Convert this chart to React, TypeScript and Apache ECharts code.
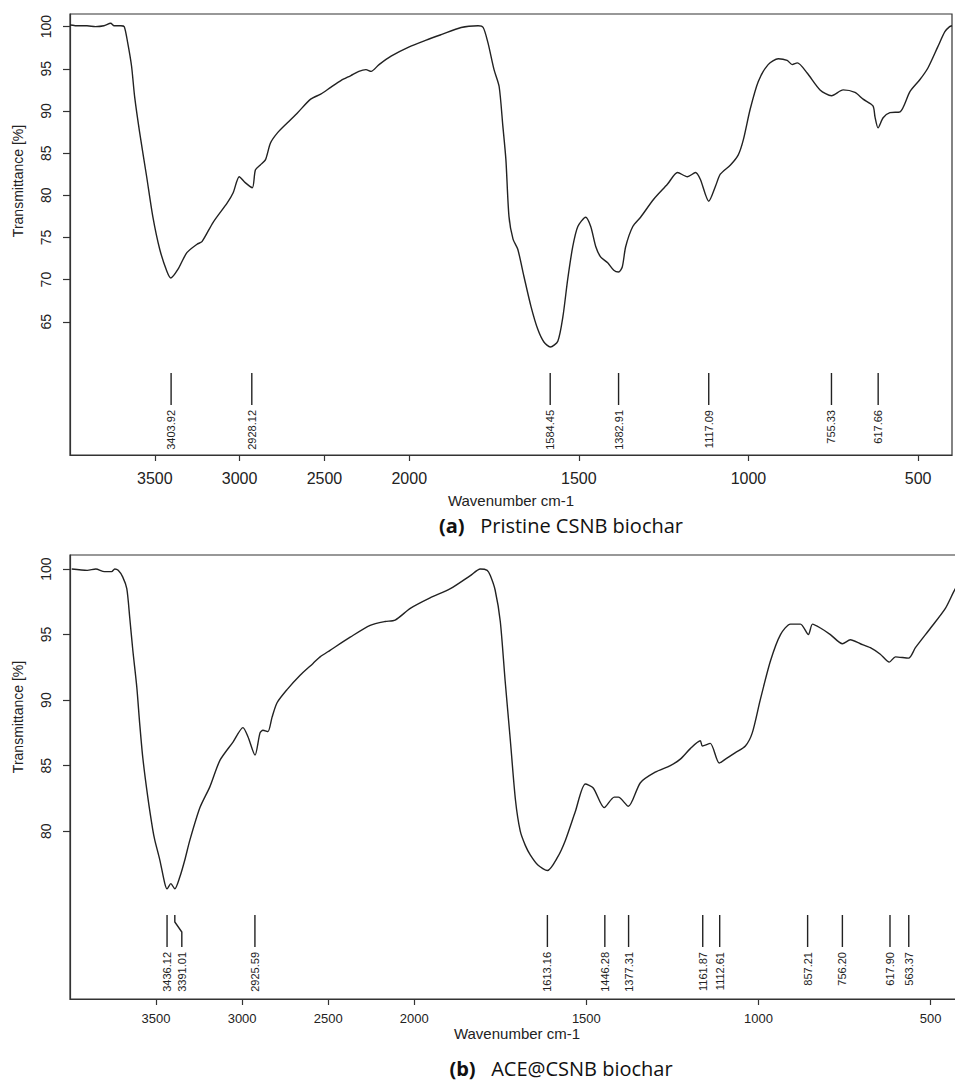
import React, { useEffect, useRef } from "react";
import * as echarts from "echarts";

// ---------- data ----------
const xTickValues = [3500, 3000, 2500, 2000, 1500, 1000, 500];
const yTicksA = [65, 70, 75, 80, 85, 90, 95, 100];
const yTicksB = [80, 85, 90, 95, 100];

// (a) Pristine CSNB biochar: [wavenumber cm-1, transmittance %]
const spectrumA: [number, number][] = [
  [4000, 100.2], [3950, 100.1], [3900, 100.1], [3850, 100.0], [3800, 100.1], [3760, 100.4], [3740, 100.1],
  [3700, 100.1], [3680, 100.0], [3660, 98.1], [3637, 95.3], [3619, 91.7], [3589, 87.4], [3548, 82.2],
  [3512, 77.5], [3471, 73.6], [3429, 71.0], [3405, 70.2], [3364, 71.2], [3311, 73.2], [3251, 74.2],
  [3222, 74.5], [3156, 76.8], [3073, 79.1], [3038, 80.3], [3002, 82.2], [2967, 81.5], [2925, 80.9],
  [2907, 83.0], [2878, 83.6], [2848, 84.2], [2818, 86.2], [2777, 87.4], [2718, 88.6], [2658, 89.8],
  [2581, 91.4], [2522, 92.0], [2463, 92.8], [2403, 93.6], [2344, 94.2], [2297, 94.7], [2255, 94.9],
  [2225, 94.7], [2178, 95.5], [2107, 96.5], [2000, 97.6], [1950, 98.4], [1906, 99.05], [1847, 99.9],
  [1797, 100.1], [1782, 99.9], [1768, 98.1], [1750, 94.9], [1735, 92.9], [1724, 88.2], [1715, 84.2],
  [1706, 77.5], [1694, 74.8], [1680, 73.6], [1662, 70.4], [1641, 66.8], [1621, 64.1], [1603, 62.6],
  [1584, 62.0], [1562, 62.7], [1547, 65.6], [1533, 70.0], [1518, 73.9], [1503, 76.3], [1480, 77.4],
  [1465, 76.3], [1450, 73.9], [1436, 72.7], [1415, 72.0], [1397, 71.1], [1383, 70.9], [1372, 71.5],
  [1362, 73.9], [1341, 76.3], [1318, 77.4], [1280, 79.5], [1239, 81.3], [1209, 82.7], [1180, 82.2],
  [1156, 82.7], [1142, 81.9], [1117, 79.3], [1097, 81.1], [1083, 82.5], [1053, 83.6], [1030, 84.8],
  [1015, 86.6], [995, 90.2], [971, 93.5], [942, 95.5], [912, 96.2], [886, 96.0], [871, 95.5],
  [856, 95.7], [827, 94.5], [789, 92.5], [755, 91.8], [721, 92.5], [686, 92.2], [662, 91.4],
  [633, 90.6], [627, 89.3], [618, 88.0], [603, 89.2], [583, 89.8], [553, 89.9], [524, 92.3],
  [495, 93.7], [471, 95.1], [442, 97.6], [421, 99.4], [407, 100.0], [400, 100.1],
];

// (b) ACE@CSNB biochar
const spectrumB: [number, number][] = [
  [3990, 100.0], [3900, 99.9], [3850, 100.0], [3800, 99.8], [3758, 99.8], [3740, 100.0], [3720, 99.9],
  [3694, 99.4], [3670, 98.5], [3653, 96.3], [3635, 93.8], [3612, 91.0], [3595, 88.2], [3577, 85.6],
  [3548, 82.6], [3519, 80.1], [3507, 79.3], [3478, 77.8], [3449, 76.0], [3436, 75.6], [3414, 76.0],
  [3391, 75.6], [3362, 76.5], [3333, 77.8], [3304, 79.3], [3245, 81.8], [3187, 83.4], [3129, 85.4],
  [3053, 86.8], [2995, 87.9], [2966, 87.2], [2925, 85.8], [2896, 87.5], [2879, 87.7], [2850, 87.6],
  [2826, 88.7], [2797, 89.8], [2739, 90.8], [2663, 91.9], [2588, 92.8], [2547, 93.3], [2489, 93.8],
  [2372, 94.8], [2256, 95.7], [2169, 96.0], [2111, 96.1], [2023, 97.0], [1954, 97.8], [1895, 98.5],
  [1837, 99.5], [1808, 100.0], [1788, 99.9], [1779, 99.5], [1765, 98.4], [1750, 96.0], [1736, 91.5],
  [1721, 87.0], [1706, 82.4], [1692, 80.0], [1677, 78.9], [1663, 78.2], [1640, 77.4], [1613, 77.0],
  [1584, 78.0], [1561, 79.3], [1532, 81.5], [1503, 83.6], [1480, 83.3], [1448, 81.8], [1419, 82.6],
  [1407, 82.6], [1378, 81.9], [1343, 83.7], [1300, 84.5], [1256, 85.0], [1227, 85.5], [1198, 86.3],
  [1169, 86.9], [1163, 86.5], [1140, 86.7], [1114, 85.2], [1096, 85.5], [1067, 86.0], [1038, 86.5],
  [1018, 87.5], [995, 90.0], [965, 93.0], [936, 95.0], [907, 95.8], [878, 95.8], [855, 95.0],
  [843, 95.8], [820, 95.5], [791, 95.0], [756, 94.3], [733, 94.6], [704, 94.3], [675, 94.0],
  [646, 93.5], [620, 92.9], [602, 93.3], [564, 93.2], [544, 94.0], [500, 95.5], [457, 97.0],
  [428, 98.5], [400, 99.5],
];

const peaksA = [3403.92, 2928.12, 1584.45, 1382.91, 1117.09, 755.33, 617.66];
const peaksB = [3436.12, 3391.01, 2925.59, 1613.16, 1446.28, 1377.31, 1161.87, 1112.61, 857.21, 756.2, 617.9, 563.37];

// ---------- axis transform (scale doubles below 2000 cm-1) ----------
const toU = (w: number) => (w >= 2000 ? (4000 - w) / 2 : 1000 + (2000 - w));
const fromU = (x: number) => (x <= 1000 ? 4000 - 2 * x : 2000 - (x - 1000));

const Y_A = { min: 49.2, max: 101.5 };
const Y_B = { min: 67.2, max: 101.07 };

const labelShiftB: Record<string, number> = { "3391.01": 7 };

const AXIS_FONT = "'Liberation Sans', Arial, sans-serif";
const CAPTION_FONT = "'Open Sans', 'Noto Sans', sans-serif";
const INK = "#222";

export default function App() {
  const ref = useRef<HTMLDivElement>(null);

  useEffect(() => {
    if (!ref.current) return;
    const chart = echarts.init(ref.current, undefined, { renderer: "svg" });

    const makeX = (gridIndex: number, fontSize: number, margin: number) => ({
      type: "value",
      gridIndex,
      min: 0,
      max: 2600,
      axisLine: { show: true, lineStyle: { color: "#333", width: 1.2 } },
      splitLine: { show: false },
      axisTick: {
        show: true,
        inside: false,
        length: 6,
        customValues: xTickValues.map(toU),
        lineStyle: { color: "#333", width: 1.2 },
      },
      axisLabel: {
        customValues: xTickValues.map(toU),
        formatter: (v: number) => String(Math.round(fromU(v))),
        fontSize,
        margin,
        color: INK,
        fontFamily: AXIS_FONT,
      },
    });

    const makeY = (gridIndex: number, range: { min: number; max: number }, ticks: number[]) => ({
      type: "value",
      gridIndex,
      min: range.min,
      max: range.max,
      axisLine: { show: true, lineStyle: { color: "#333", width: 1.2 } },
      splitLine: { show: false },
      axisTick: { show: true, inside: false, length: 7, customValues: ticks, lineStyle: { color: "#333", width: 1.2 } },
      axisLabel: {
        customValues: ticks,
        rotate: 90,
        margin: 17,
        fontSize: 14,
        color: INK,
        fontFamily: AXIS_FONT,
      },
    });

    const peakSeries = (
      idx: number,
      peaks: number[],
      yMin: number,
      lineTop: number,
      lineBottom: number,
      textTop: number,
      shifts: Record<string, number>
    ) => ({
      type: "custom",
      xAxisIndex: idx,
      yAxisIndex: idx,
      silent: true,
      clip: false,
      data: peaks.map((w) => [toU(w), w]),
      encode: { x: 0 },
      renderItem: (_params: any, api: any) => {
        const w = api.value(1) as number;
        const label = w.toFixed(2);
        const [px, bottom] = api.coord([api.value(0), yMin]);
        const shift = shifts[label] || 0;
        const lx = px + shift;
        const pts = shift
          ? [
              [px, bottom - lineTop],
              [px, bottom - lineTop + 7],
              [lx, bottom - lineTop + 17],
              [lx, bottom - lineBottom],
            ]
          : [
              [px, bottom - lineTop],
              [px, bottom - lineBottom],
            ];
        return {
          type: "group",
          children: [
            {
              type: "polyline",
              shape: { points: pts },
              style: { stroke: INK, lineWidth: 1.4, fill: null },
            },
            {
              type: "text",
              x: lx,
              y: bottom - textTop,
              rotation: Math.PI / 2,
              style: {
                text: label,
                fill: INK,
                fontSize: 11,
                fontFamily: AXIS_FONT,
                align: "right",
                verticalAlign: "middle",
              },
            },
          ],
        };
      },
    });

    const lineSeries = (idx: number, data: [number, number][]) => ({
      type: "line",
      xAxisIndex: idx,
      yAxisIndex: idx,
      showSymbol: false,
      smooth: 0.25,
      data: data.map(([w, t]) => [toU(w), t]),
      lineStyle: { color: INK, width: 1.4 },
      itemStyle: { color: INK },
    });

    const textEl = (x: number, y: number, text: string, fontSize: number, rotation = 0) => ({
      type: "text",
      x,
      y,
      rotation,
      style: {
        text,
        fontSize,
        fontFamily: AXIS_FONT,
        fill: INK,
        align: "center",
        verticalAlign: "middle",
      },
    });

    const caption = (x: number, y: number, tag: string, name: string) => ({
      type: "text",
      x,
      y,
      style: {
        text: `{b|${tag}}   ${name}`,
        fontSize: 20,
        fontFamily: CAPTION_FONT,
        fill: "#111",
        align: "center",
        verticalAlign: "middle",
        rich: {
          b: { fontWeight: "bold", fontSize: 20, fontFamily: CAPTION_FONT, fill: "#111" },
        },
      },
    });

    chart.setOption({
      animation: false,
      backgroundColor: "#fff",
      grid: [
        { left: 70, top: 14, width: 882, height: 441, show: true, borderColor: "#333", borderWidth: 1.2 },
        { left: 70, top: 555, width: 895, height: 444, show: true, borderColor: "#333", borderWidth: 1.2 },
      ],
      xAxis: [makeX(0, 16, 15), makeX(1, 13, 13)],
      yAxis: [makeY(0, Y_A, yTicksA), makeY(1, Y_B, yTicksB)],
      series: [
        lineSeries(0, spectrumA),
        lineSeries(1, spectrumB),
        peakSeries(0, peaksA, Y_A.min, 82, 50, 45, {}),
        peakSeries(1, peaksB, Y_B.min, 84, 52, 47, labelShiftB),
      ],
      graphic: [
        textEl(18, 181, "Transmittance [%]", 14, Math.PI / 2),
        textEl(18, 717, "Transmittance [%]", 14, Math.PI / 2),
        textEl(511, 500, "Wavenumber cm-1", 15),
        textEl(517, 1033, "Wavenumber cm-1", 15),
        caption(561, 525, "(a)", "Pristine CSNB biochar"),
        caption(561, 1068, "(b)", "ACE@CSNB biochar"),
      ],
    });

    return () => chart.dispose();
  }, []);

  return (
    <div style={{ position: "absolute", left: 0, top: 0, width: 955, height: 1086, overflow: "hidden" }}>
      <div ref={ref} style={{ width: 980, height: 1086 }} />
    </div>
  );
}
